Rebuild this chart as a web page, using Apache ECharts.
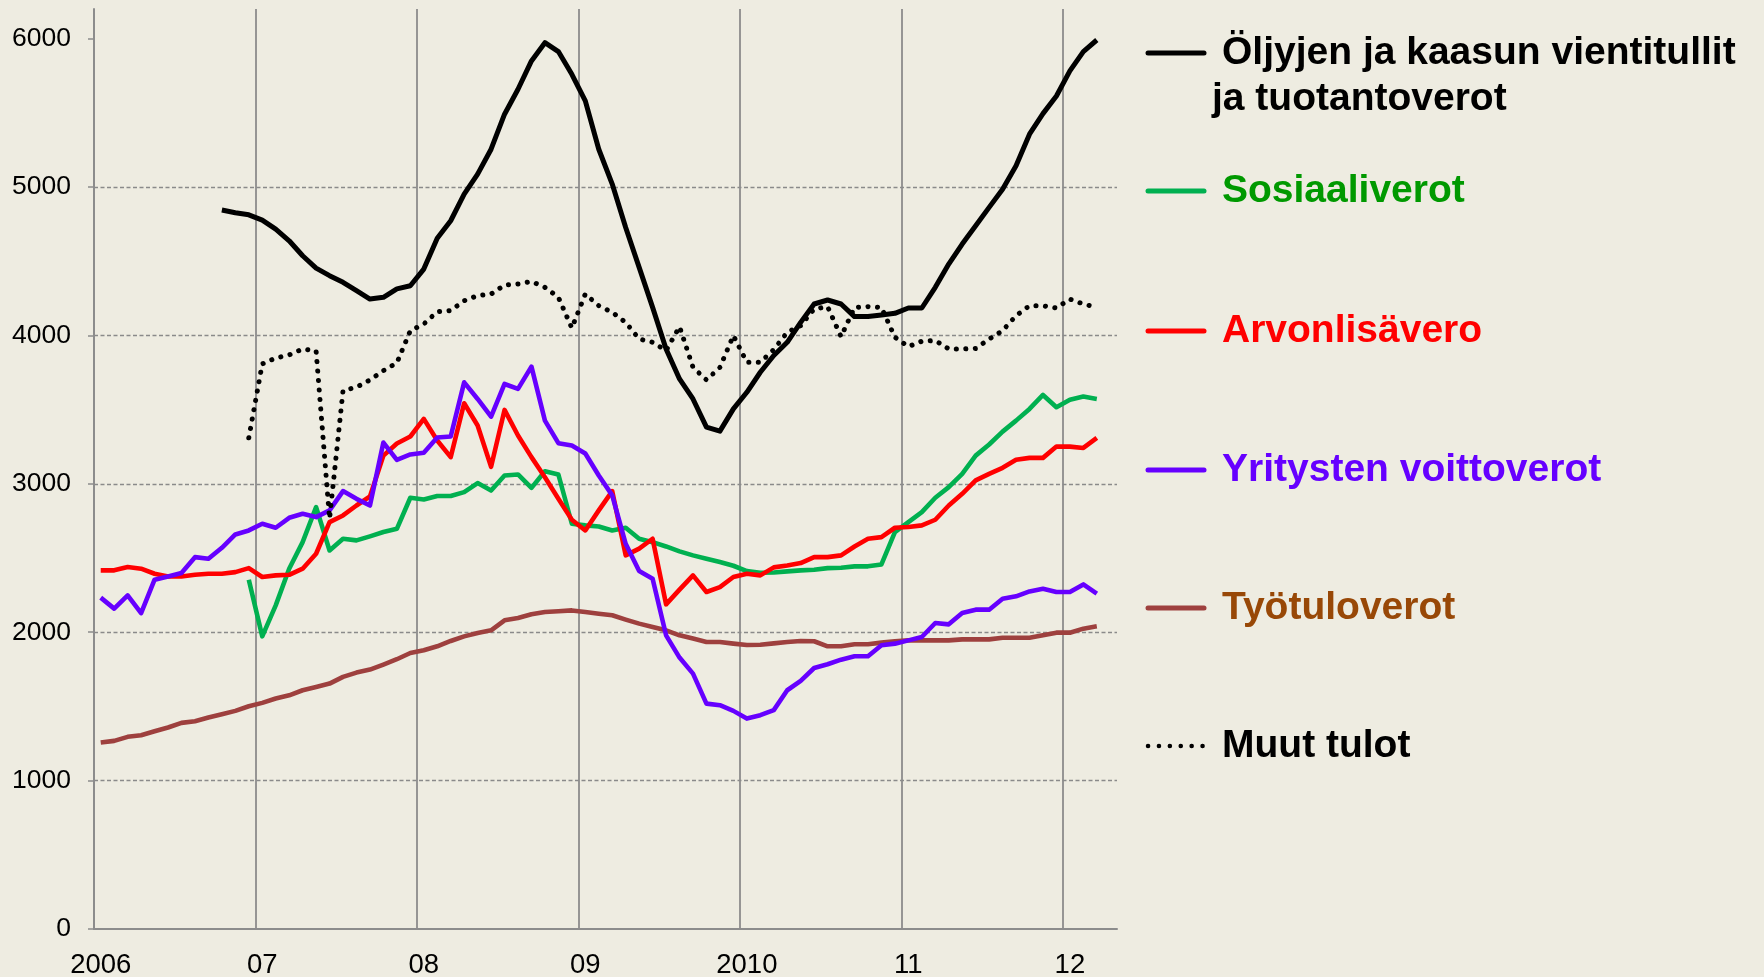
<!DOCTYPE html>
<html>
<head>
<meta charset="utf-8">
<title>Verotulot</title>
<style>
    html, body { margin: 0; padding: 0; background: #EEECE1; }
    #chart { width: 1764px; height: 977px; }
</style>
<script src="https://cdn.jsdelivr.net/npm/echarts@6.0.0/dist/echarts.min.js"></script>
</head>
<body>
<div id="chart"></div>
<script>
    // kuukaudet 2006-01 ... 2012-04 (viimeinen kuukausi tyhjä)
    var months = [];
    for (var y = 2006; y <= 2012; y++) {
        for (var m = 1; m <= 12; m++) {
            if (y === 2012 && m > 4) break;
            months.push(y + '-' + (m < 10 ? '0' + m : m));
        }
    }
    var yearLabels = ['2006', '07', '08', '09', '2010', '11', '12'];
    var yTicks = [0, 1000, 2000, 3000, 4000, 5000, 6000];

    var oil = [null, null, null, null, null, null, null, null, null,
        4845, 4827, 4813, 4777, 4717, 4638, 4537, 4454, 4403, 4358, 4302, 4245, 4257, 4314, 4335,
        4447, 4655, 4773, 4952, 5087, 5255, 5491, 5659, 5850, 5973, 5913, 5760,
        5581, 5255, 5020, 4728, 4459, 4189, 3909, 3707, 3572, 3382, 3355, 3505,
        3617, 3752, 3865, 3954, 4088, 4212, 4239, 4212, 4127, 4127, 4138, 4149,
        4185, 4185, 4324, 4481, 4616, 4739, 4863, 4986, 5143, 5356, 5495, 5614,
        5783, 5913, 5991, null];
    var social = [null, null, null, null, null, null, null, null, null, null, null,
        2354,
        1972, 2181, 2428, 2607, 2843, 2551, 2630, 2619, 2646, 2675, 2697, 2906,
        2895, 2918, 2918, 2944, 3005, 2955, 3056, 3063, 2973, 3085, 3063, 2731,
        2720, 2713, 2686, 2704, 2630, 2607, 2578, 2545, 2518, 2495, 2473, 2448,
        2412, 2401, 2403, 2410, 2417, 2421, 2432, 2435, 2444, 2444, 2457, 2675,
        2742, 2809, 2906, 2978, 3067, 3190, 3265, 3352, 3426, 3505, 3599, 3516,
        3566, 3588, 3572, null];
    var vat = [2417, 2417, 2439, 2428, 2394, 2376, 2376, 2387, 2394, 2394, 2405, 2432,
        2372, 2383, 2387, 2428, 2529, 2742, 2787, 2854, 2915, 3190, 3272, 3319,
        3438, 3292, 3180, 3543, 3393, 3115, 3498, 3326, 3180, 3045, 2899, 2758,
        2686, 2821, 2951, 2518, 2563, 2630, 2188, 2287, 2383, 2271, 2304, 2372,
        2394, 2383, 2437, 2450, 2466, 2506, 2506, 2518, 2578, 2630, 2641, 2704,
        2709, 2720, 2758, 2854, 2933, 3023, 3067, 3108, 3162, 3175, 3175, 3251,
        3251, 3242, 3310, null];
    var corporate = [2233, 2159, 2248, 2129, 2354, 2376, 2399, 2506, 2495, 2569, 2659, 2686,
        2731, 2704, 2771, 2798, 2776, 2821, 2951, 2899, 2854, 3278, 3162, 3198,
        3209, 3312, 3319, 3684, 3572, 3453, 3673, 3640, 3790, 3426, 3274, 3258,
        3204, 3056, 2922, 2596, 2412, 2361, 1979, 1829, 1721, 1519, 1508, 1470,
        1418, 1441, 1475, 1609, 1672, 1759, 1784, 1815, 1838, 1838, 1912, 1923,
        1945, 1968, 2062, 2053, 2129, 2152, 2152, 2226, 2242, 2275, 2293, 2271,
        2271, 2322, 2260, null];
    var income = [1257, 1268, 1295, 1306, 1333, 1358, 1389, 1400, 1425, 1447, 1470, 1501,
        1524, 1553, 1575, 1609, 1631, 1654, 1699, 1728, 1748, 1782, 1818, 1860,
        1878, 1905, 1941, 1972, 1995, 2013, 2080, 2096, 2121, 2136, 2141, 2147,
        2136, 2125, 2114, 2085, 2058, 2035, 2013, 1979, 1957, 1934, 1934, 1923,
        1914, 1916, 1925, 1934, 1941, 1939, 1905, 1905, 1919, 1919, 1930, 1939,
        1945, 1945, 1945, 1945, 1952, 1952, 1952, 1963, 1963, 1963, 1979, 1997,
        1997, 2024, 2040, null];
    var other = [null, null, null, null, null, null, null, null, null, null, null,
        3310,
        3808, 3848, 3869, 3909, 3895, 2765, 3628, 3651, 3700, 3763, 3815, 4032,
        4077, 4160, 4167, 4234, 4268, 4279, 4340, 4347, 4364, 4324, 4257, 4050,
        4279, 4200, 4156, 4088, 3976, 3954, 3898, 4059, 3785, 3700, 3785, 3999,
        3819, 3819, 3905, 4021, 4066, 4178, 4194, 3992, 4189, 4194, 4189, 3988,
        3925, 3961, 3966, 3909, 3909, 3912, 3976, 4032, 4133, 4200, 4200, 4185,
        4245, 4212, 4189, null];

    var font = '"Liberation Sans", Arial, sans-serif';
    var gridColor = '#8c8c8c';

    // selite piirretään itse, koska ensimmäinen nimi on kahdella rivillä
    var legendItems = [
        {text: 'Öljyjen ja kaasun vientitullit', line: '#000000', color: '#000000', y: 53},
        {text: 'Sosiaaliverot', line: '#00B050', color: '#009900', y: 191},
        {text: 'Arvonlisävero', line: '#FF0000', color: '#FF0000', y: 331},
        {text: 'Yritysten voittoverot', line: '#6600FF', color: '#6600FF', y: 470},
        {text: 'Työtuloverot', line: '#9E403E', color: '#984807', y: 608},
        {text: 'Muut tulot', line: '#000000', color: '#000000', y: 746, dotted: true}
    ];
    var graphics = [];
    legendItems.forEach(function (it) {
        graphics.push({
            type: 'line',
            shape: {x1: 1148, y1: it.y, x2: 1204, y2: it.y},
            style: {
                stroke: it.line,
                lineWidth: it.dotted ? 4.5 : 5,
                lineCap: 'round',
                lineDash: it.dotted ? [0.1, 10.8] : null
            }
        });
        graphics.push({
            type: 'text',
            x: 1222,
            y: it.y,
            style: {
                text: it.text,
                fill: it.color,
                font: 'bold 39px ' + font,
                verticalAlign: 'middle'
            }
        });
    });
    graphics.push({
        type: 'text',
        x: 1212,
        y: 99,
        style: {
            text: 'ja tuotantoverot',
            fill: '#000000',
            font: 'bold 39px ' + font,
            verticalAlign: 'middle'
        }
    });

    function lineSeries(name, data, color, extra) {
        var s = {
            name: name,
            type: 'line',
            data: data,
            symbol: 'none',
            connectNulls: false,
            lineStyle: {color: color, width: 4.6, join: 'round'},
            itemStyle: {color: color}
        };
        if (extra) s.lineStyle = Object.assign(s.lineStyle, extra);
        return s;
    }

    var chart = echarts.init(document.getElementById('chart'));
    var option = {
        backgroundColor: '#EEECE1',
        animation: false,
        textStyle: {fontFamily: font},
        grid: {left: 94, right: 647, top: 9, bottom: 48, containLabel: false, outerBoundsMode: 'none'},
        xAxis: {
            type: 'category',
            data: months,
            boundaryGap: true,
            axisLine: {lineStyle: {color: gridColor, width: 2}},
            axisTick: {show: false},
            axisLabel: {
                interval: 11,
                color: '#000',
                fontSize: 27.5,
                margin: 22,
                formatter: function (v, i) {
                    return yearLabels[Math.round(i / 12)];
                }
            },
            splitLine: {
                show: true,
                interval: 11,
                showMaxLine: false,
                lineStyle: {color: gridColor, width: 1.8}
            }
        },
        yAxis: {
            type: 'value',
            min: 0,
            max: 6200,
            interval: 1000,
            axisLine: {show: true, lineStyle: {color: gridColor, width: 2}},
            axisTick: {show: true, length: 6, customValues: yTicks, lineStyle: {color: gridColor, width: 1.5}},
            axisLabel: {
                customValues: yTicks,
                color: '#000',
                fontSize: 26.5,
                margin: 23,
                formatter: function (v) { return String(v); }
            },
            splitLine: {
                show: true,
                showMinLine: false,
                showMaxLine: false,
                lineStyle: {color: '#8a8a8a', width: 1.3, type: [4, 2.5]}
            }
        },
        graphic: graphics,
        series: [
            lineSeries('Työtuloverot', income, '#9E403E'),
            lineSeries('Sosiaaliverot', social, '#00B050'),
            lineSeries('Arvonlisävero', vat, '#FF0000'),
            lineSeries('Yritysten voittoverot', corporate, '#6600FF'),
            lineSeries('Muut tulot', other, '#000000', {type: [0.1, 9.4], cap: 'round', width: 5}),
            lineSeries('Öljyjen ja kaasun vientitullit ja tuotantoverot', oil, '#000000', {width: 5})
        ]
    };
    chart.setOption(option);
</script>
</body>
</html>
